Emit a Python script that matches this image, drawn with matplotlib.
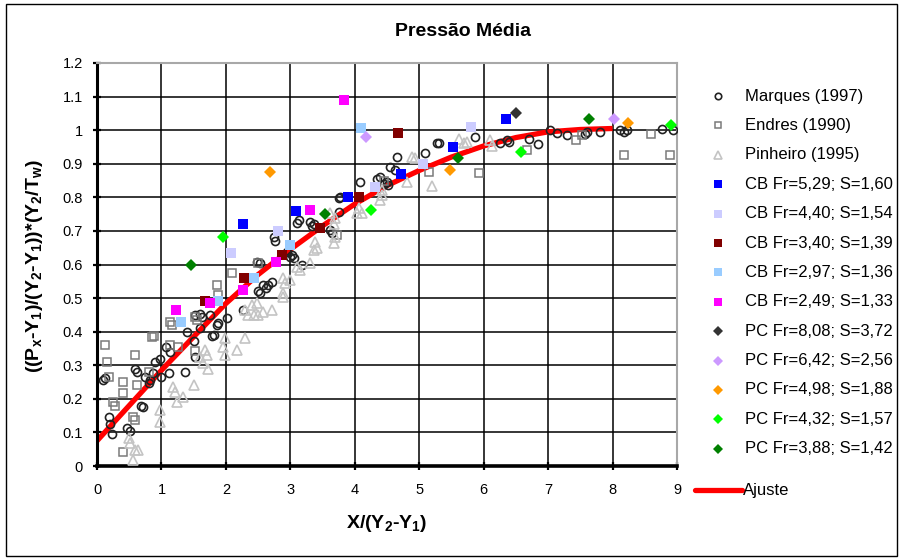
import matplotlib
matplotlib.use("Agg")
import matplotlib.pyplot as plt
from matplotlib.lines import Line2D
from matplotlib.patches import Rectangle

plt.rcParams["font.family"] = ["Liberation Sans", "DejaVu Sans"]
plt.rcParams["mathtext.fontset"] = "custom"
plt.rcParams["mathtext.rm"] = "Liberation Sans:bold"
plt.rcParams["mathtext.bf"] = "Liberation Sans:bold"
plt.rcParams["mathtext.default"] = "bf"

# ---- reference datasets ----
marques_x = [0.10, 0.12, 0.18, 0.20, 0.23, 0.46, 0.51, 0.59, 0.62, 0.69, 0.72, 0.75, 0.80, 0.82,
             0.87, 0.90, 0.98, 1.00, 1.07, 1.11, 1.13, 1.37, 1.39, 1.50, 1.52, 1.52, 1.60, 1.60,
             1.63, 1.75, 1.78, 1.81, 1.86, 1.88, 2.01, 2.27, 2.48, 2.50, 2.53, 2.53, 2.58, 2.63,
             2.66, 2.71, 2.74, 2.76, 2.95, 3.00, 3.02, 3.05, 3.10, 3.13, 3.18, 3.31, 3.33, 3.36,
             3.62, 3.64, 3.75, 3.75, 3.77, 4.08, 4.34, 4.39, 4.45, 4.50, 4.52, 4.55, 4.63, 4.65,
             5.09, 5.27, 5.30, 5.87, 6.25, 6.36, 6.39, 6.70, 6.84, 7.03, 7.14, 7.29, 7.58, 7.60,
             7.80, 8.12, 8.18, 8.22, 8.77, 8.94]
marques_y = [0.256, 0.262, 0.145, 0.125, 0.095, 0.112, 0.105, 0.288, 0.280, 0.180, 0.176, 0.266, 0.246, 0.256,
             0.276, 0.310, 0.318, 0.266, 0.353, 0.276, 0.340, 0.280, 0.400, 0.372, 0.325, 0.450, 0.410, 0.454,
             0.444, 0.450, 0.387, 0.390, 0.420, 0.425, 0.442, 0.464, 0.608, 0.520, 0.603, 0.514, 0.539, 0.529,
             0.539, 0.548, 0.682, 0.670, 0.638, 0.623, 0.628, 0.618, 0.724, 0.732, 0.598, 0.727, 0.714, 0.722,
             0.702, 0.693, 0.797, 0.757, 0.800, 0.846, 0.856, 0.861, 0.841, 0.846, 0.836, 0.890, 0.880, 0.920,
             0.933, 0.962, 0.963, 0.979, 0.961, 0.970, 0.965, 0.975, 0.960, 1.000, 0.992, 0.985, 0.990, 0.995,
             0.995, 1.000, 0.995, 1.000, 1.003, 1.000]

endres_x = [0.12, 0.15, 0.18, 0.25, 0.28, 0.41, 0.41, 0.41, 0.56, 0.59, 0.59, 0.62, 0.80, 0.85,
            0.89, 1.13, 1.13, 1.16, 1.26, 1.52, 1.52, 1.55, 1.86, 1.88, 2.09, 2.50, 3.72, 4.45,
            5.15, 5.93, 6.67, 7.44, 7.53, 8.18, 8.59, 8.89]
endres_y = [0.360, 0.310, 0.266, 0.190, 0.180, 0.250, 0.216, 0.043, 0.147, 0.137, 0.330, 0.240, 0.280, 0.385,
            0.387, 0.360, 0.430, 0.420, 0.355, 0.342, 0.444, 0.434, 0.539, 0.510, 0.574, 0.603, 0.688, 0.850,
            0.876, 0.871, 0.940, 0.972, 0.985, 0.926, 0.990, 0.926]

pinheiro_x = [0.49, 0.51, 0.56, 0.59, 0.64, 0.98, 0.98, 1.18, 1.21, 1.24, 1.34, 1.50, 1.60, 1.65,
              1.68, 1.70, 1.73, 1.96, 1.99, 1.99, 2.17, 2.30, 2.30, 2.35, 2.40, 2.43, 2.48, 2.50,
              2.58, 2.71, 2.89, 2.89, 2.92, 3.00, 2.89, 3.10, 3.15, 3.31, 3.36, 3.41, 3.39, 3.67,
              3.70, 3.67, 3.70, 3.62, 4.03, 4.06, 4.11, 4.39, 4.42, 4.42, 4.81, 4.89, 4.94, 5.20,
              5.61, 5.69, 5.74, 6.10, 6.13]
pinheiro_y = [0.082, 0.067, 0.018, 0.048, 0.048, 0.167, 0.132, 0.236, 0.221, 0.191, 0.206, 0.241, 0.325, 0.306,
              0.345, 0.330, 0.290, 0.355, 0.380, 0.330, 0.345, 0.380, 0.464, 0.449, 0.479, 0.449, 0.484, 0.449,
              0.459, 0.466, 0.514, 0.559, 0.544, 0.554, 0.504, 0.593, 0.583, 0.603, 0.643, 0.648, 0.668, 0.663,
              0.682, 0.722, 0.737, 0.752, 0.752, 0.767, 0.752, 0.792, 0.807, 0.821, 0.846, 0.920, 0.916, 0.833,
              0.975, 0.962, 0.965, 0.970, 0.952]

# ---- CB series ----
cb529_x = [2.27, 3.09, 3.89, 4.71, 5.52, 6.35]
cb529_y = [0.722, 0.760, 0.800, 0.870, 0.950, 1.033]
cb440_x = [2.08, 2.81, 4.31, 5.06, 5.80]
cb440_y = [0.635, 0.700, 0.830, 0.900, 1.010]
cb340_x = [1.67, 2.28, 2.87, 3.46, 4.07, 4.67]
cb340_y = [0.490, 0.560, 0.628, 0.709, 0.800, 0.993]
cb297_x = [1.31, 1.88, 2.43, 2.99, 4.10]
cb297_y = [0.430, 0.490, 0.560, 0.658, 1.007]
cb249_x = [1.23, 1.75, 2.27, 2.78, 3.31, 3.83]
cb249_y = [0.464, 0.486, 0.524, 0.608, 0.762, 1.090]

# ---- PC series ----
pc808_x = [6.50]
pc808_y = [1.050]
pc642_x = [4.18, 8.02]
pc642_y = [0.980, 1.033]
pc498_x = [2.68, 5.47, 8.24]
pc498_y = [0.876, 0.880, 1.020]
pc432_x = [1.96, 4.25, 6.58, 8.91]
pc432_y = [0.682, 0.762, 0.934, 1.015]
pc388_x = [1.46, 3.54, 5.60, 7.64]
pc388_y = [0.598, 0.750, 0.918, 1.033]

# ---- fitted curve ----
fit_x = [0.0, 0.5, 1.0, 1.5, 2.0, 2.5, 3.0, 3.5, 4.0, 4.5, 5.0, 5.5, 6.0, 6.5, 7.0, 7.5, 8.0]
fit_y = [0.075, 0.180, 0.285, 0.385, 0.484, 0.570, 0.645, 0.715, 0.780, 0.835, 0.880, 0.920,
         0.953, 0.978, 0.995, 1.002, 1.005]

x_ticks = [0, 1, 2, 3, 4, 5, 6, 7, 8, 9]
y_ticks = [0, 0.1, 0.2, 0.3, 0.4, 0.5, 0.6, 0.7, 0.8, 0.9, 1.0, 1.1, 1.2]
y_tick_labels = ["0", "0.1", "0.2", "0.3", "0.4", "0.5", "0.6", "0.7", "0.8", "0.9", "1", "1.1", "1.2"]

W, H = 899, 558
fig = plt.figure(figsize=(W / 100, H / 100), dpi=100)
fig.patch.set_facecolor("white")

def fx(px):
    return px / W

def fy(py):
    return 1 - py / H

ax = fig.add_axes([fx(97), fy(466), (677 - 97) / W, (466 - 63) / H])
ax.set_xlim(0, 9)
ax.set_ylim(0, 1.2)
ax.set_xticks(x_ticks)
ax.set_yticks(y_ticks)
ax.set_yticklabels(y_tick_labels)
ax.grid(True, color="black", linewidth=1.1, zorder=0)
ax.set_axisbelow(True)
for side in ("top", "right"):
    ax.spines[side].set_color("#a8a8a8")
    ax.spines[side].set_linewidth(1.5)
ax.spines["left"].set_linewidth(2.2)
ax.spines["bottom"].set_linewidth(2.6)
ax.tick_params(axis="both", direction="inout", length=6, width=1.6, labelsize=10.5)
ax.tick_params(axis="x", pad=9)
ax.tick_params(axis="y", pad=7)

# styles: (label, x, y, marker, size, face, edge)
open_kw = dict(linestyle="none", markerfacecolor="none")
series = [
    ("Marques (1997)", marques_x, marques_y, dict(marker="o", markersize=5.8, markeredgecolor="#222222", markeredgewidth=1.2, **open_kw)),
    ("Endres (1990)", endres_x, endres_y, dict(marker="s", markersize=6.0, markeredgecolor="#7a7a7a", markeredgewidth=1.1, **open_kw)),
    ("Pinheiro (1995)", pinheiro_x, pinheiro_y, dict(marker="^", markersize=6.8, markeredgecolor="#c4c4c4", markeredgewidth=1.2, **open_kw)),
    ("CB Fr=5,29; S=1,60", cb529_x, cb529_y, dict(marker="s", markersize=7, color="#0000ff", linestyle="none", markeredgewidth=0)),
    ("CB Fr=4,40; S=1,54", cb440_x, cb440_y, dict(marker="s", markersize=7, color="#ccccff", linestyle="none", markeredgewidth=0)),
    ("CB Fr=3,40; S=1,39", cb340_x, cb340_y, dict(marker="s", markersize=7, color="#800000", linestyle="none", markeredgewidth=0)),
    ("CB Fr=2,97; S=1,36", cb297_x, cb297_y, dict(marker="s", markersize=7, color="#99ccff", linestyle="none", markeredgewidth=0)),
    ("CB Fr=2,49; S=1,33", cb249_x, cb249_y, dict(marker="s", markersize=7, color="#ff00ff", linestyle="none", markeredgewidth=0)),
    ("PC Fr=8,08; S=3,72", pc808_x, pc808_y, dict(marker="D", markersize=6, color="#333333", linestyle="none", markeredgewidth=0)),
    ("PC Fr=6,42; S=2,56", pc642_x, pc642_y, dict(marker="D", markersize=6, color="#cc99ff", linestyle="none", markeredgewidth=0)),
    ("PC Fr=4,98; S=1,88", pc498_x, pc498_y, dict(marker="D", markersize=6, color="#ff9900", linestyle="none", markeredgewidth=0)),
    ("PC Fr=4,32; S=1,57", pc432_x, pc432_y, dict(marker="D", markersize=6, color="#00ff00", linestyle="none", markeredgewidth=0)),
    ("PC Fr=3,88; S=1,42", pc388_x, pc388_y, dict(marker="D", markersize=6, color="#008000", linestyle="none", markeredgewidth=0)),
]

ax.plot(fit_x, fit_y, color="#ff0000", linewidth=3.8, solid_capstyle="butt", zorder=2)
for i, (label, xs, ys, style) in enumerate(series):
    ax.plot(xs, ys, zorder=3 + (i >= 3), **style)

# title and axis labels
fig.text(fx(463), fy(32), "Pressão Média", ha="center", va="center", fontsize=14, fontweight="bold")
fig.text(fx(387), fy(523), r"X/(Y$_2$-Y$_1$)", ha="center", va="center", fontsize=14, fontweight="bold")
fig.text(fx(35), fy(266), r"((P$_x$-Y$_1$)/(Y$_2$-Y$_1$))*(Y$_2$/T$_w$)", ha="center", va="center",
         rotation=90, fontsize=14, fontweight="bold")

# legend on the right
for i, (label, xs, ys, style) in enumerate(series):
    py = 96 + i * 29.4
    st = dict(style)
    st["markersize"] = st["markersize"] * 0.8
    fig.add_artist(Line2D([fx(718)], [fy(py)], transform=fig.transFigure, **st))
    fig.text(fx(745), fy(py), label, ha="left", va="center", fontsize=12)
fig.add_artist(Line2D([fx(695), fx(742)], [fy(490), fy(490)], transform=fig.transFigure,
                      color="#ff0000", linewidth=3.8, solid_capstyle="round"))
fig.text(fx(743), fy(490), "Ajuste", ha="left", va="center", fontsize=12)

# outer chart frame
fig.add_artist(Rectangle((fx(6), fy(556)), (897 - 6) / W, (556 - 4) / H, transform=fig.transFigure,
                         fill=False, edgecolor="black", linewidth=1.0))

fig.savefig("out.png", dpi=100, facecolor="white")
